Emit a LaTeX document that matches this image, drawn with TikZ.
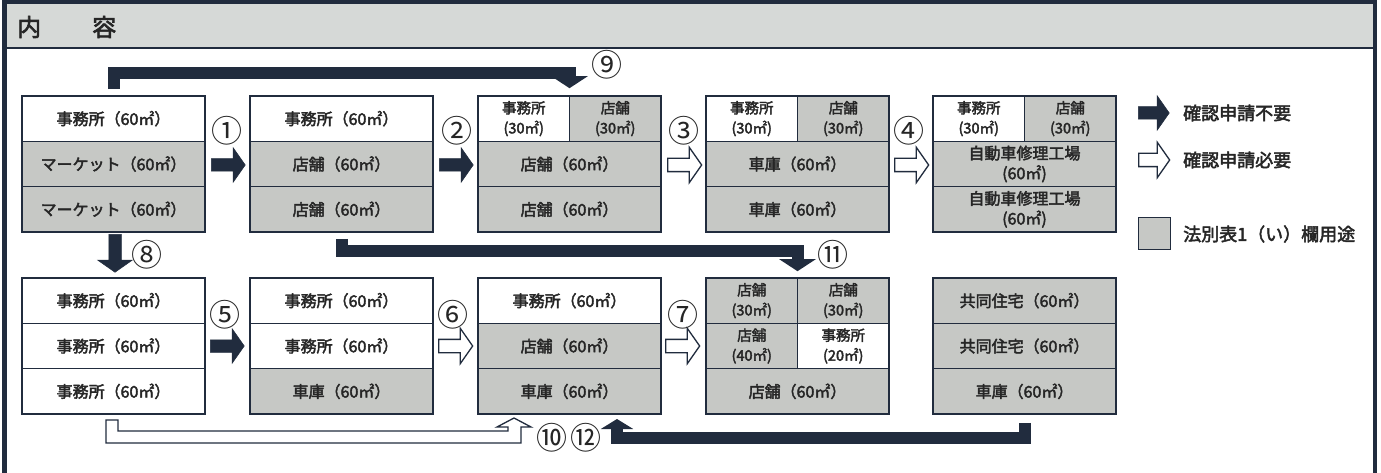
\documentclass[tikz,border=0pt]{standalone}
\usepackage{fontspec}
\setmainfont{Noto Sans CJK JP}[FakeBold=2.6]
\newfontfamily\labfont{Noto Sans CJK JP}
\usetikzlibrary{shapes.arrows,arrows.meta}
\definecolor{navy}{RGB}{33,44,62}
\definecolor{cellgray}{RGB}{198,200,197}
\definecolor{headgray}{RGB}{214,217,215}
\begin{document}
\begin{tikzpicture}[x=1pt,y=-1pt,
  cell/.style={draw=navy, line width=1.6pt, minimum width=183pt, minimum height=45.33pt, inner sep=0pt,
    font=\fontsize{16pt}{19pt}\selectfont, text=black!85},
  gcell/.style={cell, fill=cellgray},
  half/.style={cell, minimum width=91.5pt, align=center, font=\fontsize{14.5pt}{20pt}\selectfont},
  ghalf/.style={half, fill=cellgray},
  twol/.style={align=center, font=\fontsize{16pt}{20pt}\selectfont},
  boxframe/.style={draw=navy, line width=1.6pt, minimum width=183pt, minimum height=136pt, inner sep=0pt},
  darr/.style={single arrow, fill=navy, draw=navy, line width=0.5pt, minimum height=34pt,
    single arrow head extend=11pt, single arrow tip angle=110, inner xsep=0pt, inner ysep=6pt, anchor=tail},
  warr/.style={darr, fill=white, line width=1.3pt},
  darkconn/.style={draw=navy, line width=12pt, line join=miter, -{Triangle[length=12pt, width=36pt]}},
  lab/.style={font=\labfont\fontsize{31pt}{33pt}\selectfont, inner sep=0pt, text=black!85},
  legtxt/.style={font=\fontsize{18pt}{20pt}\selectfont, inner sep=0pt, anchor=west, text=black!85}
]
\useasboundingbox (0,0) rectangle (1381,473);
\fill[white] (0,0) rectangle (1381,473);
% header
\fill[headgray] (7,4) rectangle (1373,48);
\draw[navy, line width=2pt] (7,48) -- (1373,48);
\draw[navy, line width=4.5pt] (4.5,473) -- (4.5,2.25) -- (1375,2.25) -- (1375,473);
\node[anchor=west, inner sep=0pt, font=\fontsize{24pt}{26pt}\selectfont, text=black!85] (head) at (17,27) {内\hspace{51pt}容};

% ---------- top row ----------
% A
\node[cell]  (A1) at (113.5,118.67) {事務所（60㎡）};
\node[gcell] (A2) at (113.5,164) {マーケット（60㎡）};
\node[gcell] (A3) at (113.5,209.33) {マーケット（60㎡）};
\node[boxframe] (A) at (113.5,164) {};
% B
\node[cell]  (B1) at (341.5,118.67) {事務所（60㎡）};
\node[gcell] (B2) at (341.5,164) {店舗（60㎡）};
\node[gcell] (B3) at (341.5,209.33) {店舗（60㎡）};
\node[boxframe] (B) at (341.5,164) {};
% C
\node[half]  (C1a) at (523.75,118.67) {事務所\\(30㎡)};
\node[ghalf] (C1b) at (615.25,118.67) {店舗\\(30㎡)};
\node[gcell] (C2) at (569.5,164) {店舗（60㎡）};
\node[gcell] (C3) at (569.5,209.33) {店舗（60㎡）};
\node[boxframe] (C) at (569.5,164) {};
% D
\node[half]  (D1a) at (751.75,118.67) {事務所\\(30㎡)};
\node[ghalf] (D1b) at (843.25,118.67) {店舗\\(30㎡)};
\node[gcell] (D2) at (797.5,164) {車庫（60㎡）};
\node[gcell] (D3) at (797.5,209.33) {車庫（60㎡）};
\node[boxframe] (D) at (797.5,164) {};
% E
\node[half]  (E1a) at (978.75,118.67) {事務所\\(30㎡)};
\node[ghalf] (E1b) at (1070.25,118.67) {店舗\\(30㎡)};
\node[gcell, twol] (E2) at (1024.5,164) {自動車修理工場\\(60㎡)};
\node[gcell, twol] (E3) at (1024.5,209.33) {自動車修理工場\\(60㎡)};
\node[boxframe] (E) at (1024.5,164) {};

% ---------- bottom row ----------
% F
\node[cell] (F1) at (113.5,300.67) {事務所（60㎡）};
\node[cell] (F2) at (113.5,346) {事務所（60㎡）};
\node[cell] (F3) at (113.5,391.33) {事務所（60㎡）};
\node[boxframe] (F) at (113.5,346) {};
% G
\node[cell]  (G1) at (341.5,300.67) {事務所（60㎡）};
\node[cell]  (G2) at (341.5,346) {事務所（60㎡）};
\node[gcell] (G3) at (341.5,391.33) {車庫（60㎡）};
\node[boxframe] (G) at (341.5,346) {};
% H
\node[cell]  (H1) at (569.5,300.67) {事務所（60㎡）};
\node[gcell] (H2) at (569.5,346) {店舗（60㎡）};
\node[gcell] (H3) at (569.5,391.33) {車庫（60㎡）};
\node[boxframe] (H) at (569.5,346) {};
% I
\node[ghalf] (I1a) at (751.75,300.67) {店舗\\(30㎡)};
\node[ghalf] (I1b) at (843.25,300.67) {店舗\\(30㎡)};
\node[ghalf] (I2a) at (751.75,346) {店舗\\(40㎡)};
\node[half]  (I2b) at (843.25,346) {事務所\\(20㎡)};
\node[gcell] (I3) at (797.5,391.33) {店舗（60㎡）};
\node[boxframe] (I) at (797.5,346) {};
% J
\node[gcell] (J1) at (1024.5,300.67) {共同住宅（60㎡）};
\node[gcell] (J2) at (1024.5,346) {共同住宅（60㎡）};
\node[gcell] (J3) at (1024.5,391.33) {車庫（60㎡）};
\node[boxframe] (J) at (1024.5,346) {};

% ---------- straight block arrows ----------
\node[darr] (ar1) at (211,165) {};
\node[darr] (ar2) at (439,165) {};
\node[warr] (ar3) at (667,165) {};
\node[warr] (ar4) at (894,165) {};
\node[darr] (ar5) at (210,346) {};
\node[warr] (ar6) at (438,346) {};
\node[warr] (ar7) at (665,346) {};
\node[darr, rotate=-90, minimum height=38pt] (ar8) at (115,234) {};

% ---------- L connectors ----------
\draw[darkconn] ([yshift=6pt]A.north) -- ++(0,-16) -| ([yshift=7pt]C.north);
\draw[darkconn] ([yshift=-6pt]B.south) -- ++(0,12) -| ([yshift=6pt]I.north);
\coordinate (t12) at (617,419);
\draw[draw=navy, line width=12pt, line join=miter, -{Triangle[length=10pt, width=32pt]}]
  ([yshift=-8pt]J.south) -- ++(0,15.5) -| (t12);
% white L arrow (10)
\draw[navy, line width=1.3pt, fill=white, line join=miter]
  (106,420) -- (106,443) -- (521,443) -- (521,427) -- (531,427) -- (514,418) -- (497,427)
  -- (508,427) -- (508,431) -- (118,431) -- (118,420) -- cycle;

% ---------- labels ----------
\node[lab] (l1) at (227,131) {①};
\node[lab] (l2) at (457,131) {②};
\node[lab] (l3) at (684,131) {③};
\node[lab] (l4) at (909,131) {④};
\node[lab] (l5) at (225,315) {⑤};
\node[lab] (l6) at (453,315) {⑥};
\node[lab] (l7) at (683,315) {⑦};
\node[lab] (l8) at (147,255) {⑧};
\node[lab] (l9) at (607,65) {⑨};
\node[lab] (l10) at (552,438) {⑩};
\node[lab] (l11) at (833,255) {⑪};
\node[lab] (l12) at (586,438) {⑫};

% ---------- legend ----------
\node[darr, minimum height=31pt] (lg1) at (1138,113) {};
\node[legtxt] (lt1) at (1183,113) {確認申請不要};
\node[warr, minimum height=31pt] (lg2) at (1138,160) {};
\node[legtxt] (lt2) at (1183,160) {確認申請必要};
\node[draw=navy, fill=cellgray, line width=1.3pt, minimum size=32pt, inner sep=0pt] (lg3) at (1154.5,233.5) {};
\node[legtxt] (lt3) at (1183,234) {法別表1（い）欄用途};
\end{tikzpicture}
\end{document}
